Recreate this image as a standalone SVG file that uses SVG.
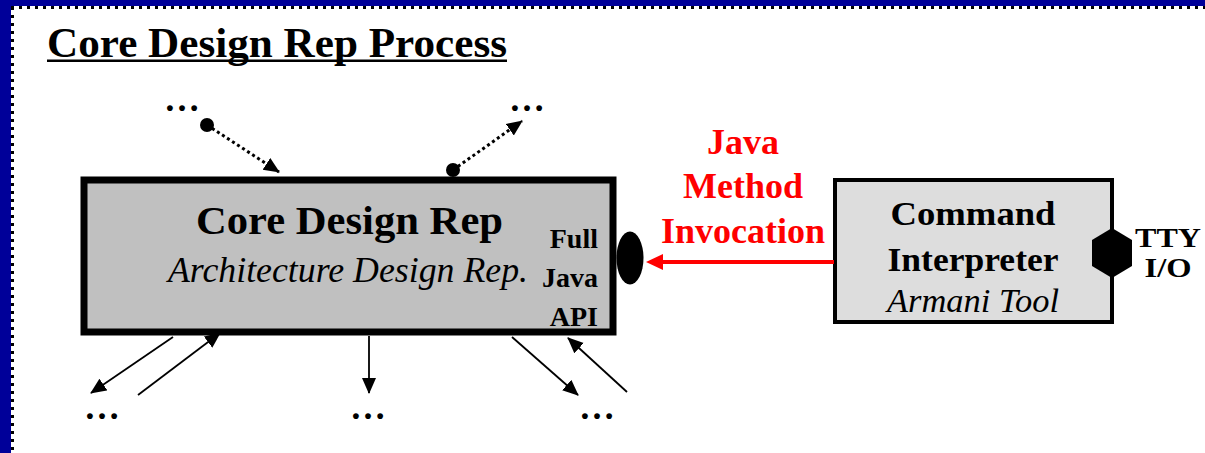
<svg xmlns="http://www.w3.org/2000/svg" width="1205" height="453" viewBox="0 0 1205 453">
  <style>
    text { font-family: 'Liberation Serif', 'DejaVu Serif', serif; }
    .b { font-weight: bold; }
    .i { font-style: italic; }
    .dots { font-weight: bold; font-size: 36px; text-anchor: middle; fill: #000; }
    .arrow { stroke: #000; stroke-width: 1.8; fill: none; marker-end: url(#ah); }
    .dotted { stroke: #000; stroke-width: 3; stroke-dasharray: 3 3; fill: none; marker-end: url(#ah); }
  </style>
  <defs>
    <marker id="ah" markerUnits="userSpaceOnUse" markerWidth="17" markerHeight="15" refX="15" refY="7" orient="auto">
      <path d="M0,0 L16,7 L0,14 z" fill="#000"/>
    </marker>
    <marker id="ahRed" markerUnits="userSpaceOnUse" markerWidth="18" markerHeight="16" refX="0" refY="8" orient="auto">
      <path d="M0,0 L17,8 L0,16 z" fill="#ff0000"/>
    </marker>
  </defs>

  <!-- background and slide frame -->
  <rect x="0" y="0" width="1205" height="453" fill="#ffffff"/>
  <rect x="0" y="0" width="1205" height="6" fill="#000099"/>
  <rect x="0" y="0" width="11" height="453" fill="#000099"/>
  <line x1="11" y1="7.5" x2="1205" y2="7.5" stroke="#000" stroke-width="3" stroke-dasharray="3 5"/>
  <line x1="12.5" y1="7" x2="12.5" y2="453" stroke="#000" stroke-width="3" stroke-dasharray="3 5"/>

  <!-- title -->
  <g id="title">
    <text class="b" font-family="Liberation Serif, serif" x="47" y="57" font-size="42" textLength="460" lengthAdjust="spacingAndGlyphs">Core Design Rep Process</text>
    <rect x="47" y="59.5" width="460" height="2.5" fill="#000"/>
  </g>

  <!-- Core Design Rep node -->
  <g id="core-design-rep">
    <rect x="84" y="180" width="529" height="152" fill="#c0c0c0" stroke="#000" stroke-width="7"/>
    <text class="b" font-family="Liberation Serif, serif" x="349.5" y="234" font-size="40" text-anchor="middle" textLength="307" lengthAdjust="spacingAndGlyphs">Core Design Rep</text>
    <text class="i" font-family="Liberation Serif, serif" x="348" y="282" font-size="36" text-anchor="middle" textLength="360" lengthAdjust="spacingAndGlyphs">Architecture Design Rep.</text>
    <text class="b" font-family="Liberation Serif, serif" x="598" y="248" font-size="28" text-anchor="end">Full</text>
    <text class="b" font-family="Liberation Serif, serif" x="598" y="287" font-size="28" text-anchor="end">Java</text>
    <text class="b" font-family="Liberation Serif, serif" x="598" y="326" font-size="28" text-anchor="end">API</text>
    <ellipse cx="630" cy="258" rx="13.5" ry="26.5" fill="#000"/>
  </g>

  <!-- Command Interpreter node -->
  <g id="command-interpreter">
    <rect x="835" y="180" width="277" height="142" fill="#dddddd" stroke="#000" stroke-width="4"/>
    <text class="b" font-family="Liberation Serif, serif" x="973" y="225" font-size="34" text-anchor="middle" textLength="165" lengthAdjust="spacingAndGlyphs">Command</text>
    <text class="b" font-family="Liberation Serif, serif" x="973" y="271" font-size="34" text-anchor="middle" textLength="171" lengthAdjust="spacingAndGlyphs">Interpreter</text>
    <text class="i" font-family="Liberation Serif, serif" x="973" y="312" font-size="33" text-anchor="middle" textLength="172" lengthAdjust="spacingAndGlyphs">Armani Tool</text>
    <polygon points="1112,228 1132,240 1132,266 1112,278 1092,266 1092,240" fill="#000"/>
    <text class="b" font-family="Liberation Serif, serif" x="1168" y="247" font-size="27" text-anchor="middle" textLength="66" lengthAdjust="spacingAndGlyphs">TTY</text>
    <text class="b" font-family="Liberation Serif, serif" x="1168" y="277" font-size="27" text-anchor="middle" textLength="47" lengthAdjust="spacingAndGlyphs">I/O</text>
  </g>

  <!-- unspecified endpoints -->
  <g id="ellipsis-top-left"><text class="dots" font-family="Liberation Serif, serif" x="182" y="111">…</text></g>
  <g id="ellipsis-top-right"><text class="dots" font-family="Liberation Serif, serif" x="527" y="111">…</text></g>
  <g id="ellipsis-bottom-left"><text class="dots" font-family="Liberation Serif, serif" x="102" y="419">…</text></g>
  <g id="ellipsis-bottom-middle"><text class="dots" font-family="Liberation Serif, serif" x="368" y="419">…</text></g>
  <g id="ellipsis-bottom-right"><text class="dots" font-family="Liberation Serif, serif" x="597" y="419">…</text></g>

  <!-- connectors -->
  <g id="connectors">
    <line class="dotted" x1="207" y1="125" x2="279" y2="172"/>
    <circle cx="207" cy="125" r="7" fill="#000"/>
    <line class="dotted" x1="453" y1="170" x2="522" y2="121"/>
    <circle cx="453" cy="170" r="7" fill="#000"/>

    <line class="arrow" x1="173" y1="337" x2="91" y2="393"/>
    <line class="arrow" x1="138" y1="395" x2="220" y2="333"/>
    <line class="arrow" x1="369" y1="336" x2="369" y2="393"/>
    <line class="arrow" x1="512" y1="337" x2="578" y2="395"/>
    <line class="arrow" x1="627" y1="392" x2="568" y2="338"/>

    <line x1="834" y1="262" x2="663" y2="262" stroke="#ff0000" stroke-width="4" marker-end="url(#ahRed)"/>
    <g class="b" font-family="Liberation Serif, serif" font-size="36" fill="#ff0000" text-anchor="middle">
      <text x="743" y="154">Java</text>
      <text x="743" y="198">Method</text>
      <text x="743" y="243">Invocation</text>
    </g>
  </g>
</svg>
